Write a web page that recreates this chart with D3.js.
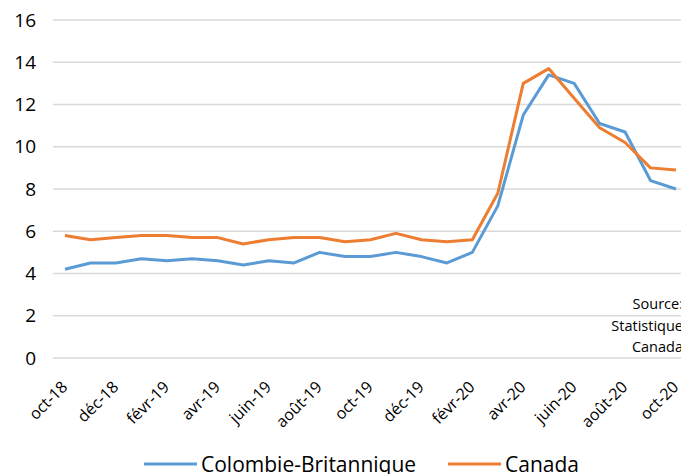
<!DOCTYPE html>
<html>
<head>
<meta charset="utf-8">
<script src="https://cdn.jsdelivr.net/npm/d3@7"></script>
<style>
  html, body { margin: 0; padding: 0; background: #fff; }
  svg { display: block; font-family: "Open Sans", "Noto Sans", sans-serif; }
</style>
</head>
<body>
<svg id="chart" width="681" height="474"></svg>
<script>
// Taux de chômage mensuel, oct. 2018 à oct. 2020
const months = [
  "oct-18","nov-18","déc-18","janv-19","févr-19","mars-19","avr-19","mai-19","juin-19",
  "juil-19","août-19","sept-19","oct-19","nov-19","déc-19","janv-20","févr-20","mars-20",
  "avr-20","mai-20","juin-20","juil-20","août-20","sept-20","oct-20"
];
const colombieBritannique = [4.2,4.5,4.5,4.7,4.6,4.7,4.6,4.4,4.6,4.5,5.0,4.8,4.8,5.0,4.8,4.5,5.0,7.2,11.5,13.4,13.0,11.1,10.7,8.4,8.0];
const canada = [5.8,5.6,5.7,5.8,5.8,5.7,5.7,5.4,5.6,5.7,5.7,5.5,5.6,5.9,5.6,5.5,5.6,7.8,13.0,13.7,12.3,10.9,10.2,9.0,8.9];
const yTicks = [0,2,4,6,8,10,12,14,16];
const seriesNames = ["Colombie-Britannique","Canada"];
const seriesColors = ["#5b9bd5","#ed7d31"];
const sourceLines = ["Source:","Statistique","Canada"];

const svg = d3.select("#chart");

const x = d3.scalePoint().domain(months).range([65, 676]);
const y = d3.scaleLinear().domain([0, 16]).range([358, 20]);

// Quadrillage horizontal
svg.append("g")
  .selectAll("line")
  .data(yTicks)
  .join("line")
  .attr("x1", 53).attr("x2", 681)
  .attr("y1", d => y(d)).attr("y2", d => y(d))
  .attr("stroke", "#d9d9d9")
  .attr("stroke-width", 1.5);

// Axe vertical (étiquettes seulement)
const yAxis = svg.append("g")
  .attr("transform", "translate(36,0)")
  .call(d3.axisLeft(y).tickValues(yTicks).tickSize(0).tickPadding(0));
yAxis.select(".domain").remove();
yAxis.selectAll("text")
  .attr("font-size", 19)
  .attr("fill", "#000")
  .attr("font-family", "'Open Sans', sans-serif");

// Axe horizontal : une étiquette sur deux, inclinée
const xAxis = svg.append("g")
  .attr("transform", "translate(0,368)")
  .call(d3.axisBottom(x)
    .tickValues(months.filter((d, i) => i % 2 === 0))
    .tickSize(0));
xAxis.select(".domain").remove();
xAxis.selectAll("text")
  .attr("font-size", 16)
  .attr("fill", "#000")
  .attr("font-family", "'Open Sans', sans-serif")
  .attr("text-anchor", "end")
  .attr("y", 0)
  .attr("dy", "0.35em")
  .attr("transform", "translate(-1,16) rotate(-45)");

// Séries
const series = [colombieBritannique, canada];
const line = d3.line()
  .x((d, i) => x(months[i]))
  .y(d => y(d));

series.forEach((values, k) => {
  svg.append("path")
    .datum(values)
    .attr("fill", "none")
    .attr("stroke", seriesColors[k])
    .attr("stroke-width", 3)
    .attr("stroke-linejoin", "round")
    .attr("d", line);
});

// Mention de la source
svg.append("g")
  .selectAll("text")
  .data(sourceLines)
  .join("text")
  .attr("x", 683)
  .attr("y", (d, i) => 309 + i * 21.5)
  .attr("text-anchor", "end")
  .attr("font-size", 14.5)
  .attr("fill", "#000")
  .text(d => d);

// Légende
const legendItems = [
  { x: 144, name: seriesNames[0], color: seriesColors[0] },
  { x: 448, name: seriesNames[1], color: seriesColors[1] }
];
const legend = svg.append("g");
legendItems.forEach(item => {
  legend.append("line")
    .attr("x1", item.x).attr("x2", item.x + 53)
    .attr("y1", 464).attr("y2", 464)
    .attr("stroke", item.color)
    .attr("stroke-width", 3);
  legend.append("text")
    .attr("x", item.x + 57)
    .attr("y", 472)
    .attr("font-size", 21)
    .attr("fill", "#000")
    .text(item.name);
});
</script>
</body>
</html>
